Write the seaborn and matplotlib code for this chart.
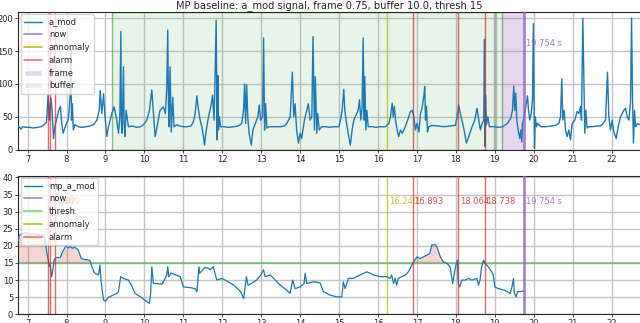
import numpy as np
import pandas as pd
import matplotlib
matplotlib.use("Agg")
import matplotlib.pyplot as plt
import seaborn as sns
from matplotlib.lines import Line2D
from matplotlib.patches import Patch

# ---------------- data ----------------
now = 19.754
buffer_start = 9.18
buffer_end = 19.18
frame_mark = 19.0
thresh = 15
anomaly_times = [16.240]
alarm_times = [7.536, 7.587, 7.709, 16.893, 18.064, 18.738]

sig_t = [6.755, 6.80, 6.83, 6.87, 6.95, 7.05, 7.15, 7.25, 7.35, 7.42, 7.47,
         7.486, 7.528, 7.560, 7.597, 7.63, 7.665, 7.70, 7.742, 7.80, 7.842, 7.876, 7.914, 7.957, 8.0, 8.042,
         8.068, 8.093, 8.11, 8.128, 8.15, 8.175, 8.214, 8.30,
         8.40, 8.50, 8.60, 8.69,
         8.78, 8.84, 8.864, 8.907, 8.95, 8.99, 9.035, 9.078, 9.163, 9.223, 9.29, 9.335, 9.37, 9.395, 9.41,
         9.43, 9.463, 9.48, 9.50, 9.53, 9.59, 9.70, 9.80, 9.90, 9.977,
         10.062, 10.13, 10.19, 10.233, 10.276, 10.336, 10.40, 10.49, 10.54, 10.575, 10.60, 10.62, 10.635,
         10.66, 10.69, 10.73, 10.76, 10.83, 10.90, 11.0, 11.1, 11.2,
         11.26, 11.304, 11.347, 11.39, 11.432, 11.475, 11.517, 11.543, 11.577, 11.646, 11.715, 11.75, 11.79,
         11.817, 11.843, 11.869, 11.886, 11.903, 11.929, 11.955, 12.05, 12.15, 12.30, 12.40,
         12.46, 12.50, 12.547, 12.573, 12.60, 12.625, 12.66, 12.69, 12.744, 12.786, 12.85, 12.915, 12.95,
         12.985, 13.036, 13.061, 13.087, 13.113, 13.147, 13.20, 13.35, 13.50, 13.60,
         13.658, 13.744, 13.80, 13.835, 13.87, 13.91, 13.956, 14.0, 14.04, 14.11, 14.17, 14.21, 14.256, 14.30,
         14.33, 14.367, 14.39, 14.427, 14.45, 14.49, 14.55, 14.65, 14.75, 14.85, 14.993,
         15.036, 15.079, 15.12, 15.147, 15.18, 15.233, 15.29, 15.335, 15.378, 15.438, 15.49, 15.524, 15.558,
         15.592, 15.618, 15.644, 15.66, 15.687, 15.713, 15.747, 15.85, 15.95, 16.05, 16.19,
         16.28, 16.32, 16.365, 16.39, 16.42, 16.45, 16.49, 16.53, 16.576, 16.62, 16.70, 16.79, 16.83, 16.876,
         16.92, 16.96, 17.0, 17.05, 17.09, 17.13, 17.176, 17.20, 17.22, 17.245, 17.27, 17.30, 17.39,
         17.55, 17.70, 17.85, 17.987,
         18.03, 18.07, 18.10, 18.133, 18.176, 18.227, 18.27, 18.33, 18.416, 18.485, 18.544, 18.587, 18.63,
         18.673, 18.716, 18.735, 18.745, 18.76, 18.785, 18.819, 18.862, 18.93,
         19.0, 19.1, 19.2, 19.324,
         19.41, 19.452, 19.487, 19.51, 19.538, 19.564, 19.607, 19.64, 19.667, 19.692, 19.71, 19.752, 19.795,
         19.838, 19.864, 19.898, 19.932, 19.967, 19.99, 20.018, 20.04, 20.07, 20.10, 20.18, 20.30, 20.45,
         20.56, 20.644, 20.687, 20.72, 20.746, 20.78, 20.815, 20.857, 20.90, 20.943, 20.986, 21.054, 21.114,
         21.157, 21.20, 21.225, 21.26, 21.285, 21.31, 21.337, 21.37, 21.414, 21.50, 21.60, 21.70,
         21.757, 21.843, 21.894, 21.928, 21.971, 22.014, 22.057, 22.117, 22.168, 22.228, 22.314, 22.357,
         22.40, 22.442, 22.485, 22.511, 22.537, 22.56, 22.588, 22.614, 22.674, 22.725, 22.76]
sig_v = [36, 34, 31, 35, 34, 34, 33, 34, 35, 38, 41,
         42, 84, 45, 79, 60, 17, 35, 45, 60, 66, 40, 25, 33, 40, 45,
         60, 86, 152, 45, 70, 30, 38, 35,
         34, 35, 36, 38,
         45, 60, 90, 55, 85, 50, 20, 35, 55, 65, 45, 25, 50, 180, 40,
         25, 126, 40, 20, 60, 35, 36, 34, 35, 38,
         45, 60, 91, 55, 20, 38, 60, 65, 55, 95, 182, 60, 35,
         126, 27, 80, 35, 38, 36, 35, 35, 36,
         43, 55, 82, 60, 45, 35, 20, 7, 25, 50, 68, 83, 45,
         116, 197, 15, 113, 30, 50, 35, 35, 34, 35, 36,
         38, 40, 60, 100, 40, 99, 45, 25, 7, 30, 40, 50, 68,
         45, 50, 170, 30, 70, 33, 35, 35, 35, 36,
         40, 50, 118, 50, 70, 30, 10, 25, 17, 45, 60, 70, 45, 50,
         172, 30, 111, 25, 55, 30, 35, 35, 34, 35, 35,
         45, 60, 92, 60, 45, 25, 7, 30, 45, 53, 60, 76, 45,
         66, 170, 45, 111, 30, 60, 35, 35, 34, 35, 35,
         40, 50, 71, 50, 66, 45, 30, 20, 30, 25, 35, 50, 58, 60,
         50, 30, 40, 27, 55, 63, 81, 96, 45, 66, 27, 35, 37,
         36, 35, 36, 37,
         50, 68, 60, 50, 40, 25, 10, 20, 35, 45, 63, 45, 30,
         40, 45, 168, 5, 84, 38, 50, 35, 35,
         35, 34, 35, 40,
         48, 60, 97, 60, 86, 45, 27, 17, 30, 12, 40, 50, 66,
         82, 60, 45, 55, 76, 192, 2, 50, 35, 40, 35, 35, 36,
         37, 40, 50, 108, 45, 60, 30, 20, 30, 15, 40, 45, 58,
         55, 66, 45, 200, 111, 25, 60, 33, 35, 35, 36, 36,
         38, 45, 118, 50, 30, 45, 27, 17, 35, 50, 60, 63,
         50, 45, 73, 200, 76, 10, 60, 35, 40, 38, 38]

mp_t = [6.765, 6.78, 6.85, 6.95, 7.05, 7.15, 7.25, 7.35, 7.43, 7.46, 7.49, 7.53, 7.56, 7.58, 7.62,
        7.65, 7.68, 7.73, 7.84, 7.90, 7.96, 8.0, 8.05, 8.09, 8.15, 8.21, 8.30, 8.38, 8.47, 8.55, 8.60,
        8.64, 8.70, 8.73, 8.82, 8.86, 8.885, 8.95, 9.0, 9.08, 9.2, 9.29, 9.335, 9.39, 9.46, 9.59, 9.67,
        9.76, 9.9, 10.06, 10.13, 10.16, 10.19, 10.23, 10.32, 10.45, 10.49, 10.575, 10.6, 10.625, 10.685,
        10.81, 10.92, 11.0, 11.17, 11.3, 11.35, 11.40, 11.42, 11.56, 11.65, 11.69, 11.77, 11.86, 11.99,
        12.12, 12.30, 12.47, 12.55, 12.62, 12.66, 12.75, 12.88, 12.99, 13.06, 13.10, 13.23, 13.32, 13.49,
        13.66, 13.74, 13.81, 13.87, 14.0, 14.10, 14.13, 14.17, 14.34, 14.51,
        14.6, 14.77, 14.94, 15.07, 15.11, 15.155, 15.24, 15.37, 15.45, 15.54, 15.71, 15.80, 15.88, 16.05,
        16.225, 16.31, 16.35, 16.40, 16.44, 16.48, 16.52, 16.61, 16.70, 16.78, 16.87, 16.91, 17.0, 17.08,
        17.17, 17.25, 17.33, 17.38, 17.47, 17.51, 17.60, 17.68, 17.77, 17.85, 17.92, 17.96, 18.0, 18.04,
        18.06, 18.1, 18.15, 18.24, 18.32, 18.41, 18.54, 18.58, 18.62, 18.66, 18.71, 18.75, 18.83, 18.92,
        18.96, 19.0, 19.09, 19.26, 19.39, 19.44, 19.48, 19.5, 19.55, 19.58, 19.65, 19.73, 19.754]
mp_v = [21.5, 23.0, 23.6, 23.8, 23.5, 23.6, 23.4, 23.2, 23.0, 21.0, 18.3, 15.8, 14.0, 14.4, 11.0,
        13.0, 15.8, 16.6, 16.6, 18.3, 19.5, 20.0, 19.4, 19.8, 19.3, 19.6, 18.8, 16.3, 16.0, 15.9, 15.8,
        14.4, 12.5, 12.0, 11.5, 14.4, 10.0, 4.2, 3.8, 5.0, 5.6, 6.1, 6.6, 11.0, 10.5, 10.0, 8.5,
        6.1, 5.1, 3.7, 3.2, 6.0, 13.9, 9.0, 9.0, 8.8, 9.5, 11.5, 13.9, 11.0, 12.0,
        11.5, 11.0, 8.0, 7.8, 7.5, 6.6, 13.9, 12.0, 13.7, 13.4, 13.0, 13.9, 10.0, 10.5,
        9.7, 8.5, 6.6, 4.6, 11.0, 8.5, 9.0, 10.0, 11.5, 13.0, 11.0, 11.5, 10.5, 8.5,
        7.0, 6.1, 10.0, 7.5, 8.0, 9.0, 12.0, 9.0, 9.5, 9.2,
        6.6, 5.6, 5.1, 5.1, 9.5, 7.5, 10.5, 10.5, 11.0, 11.5, 12.4, 12.0, 11.5, 11.0,
        11.0, 10.5, 11.5, 9.0, 10.5, 8.5, 10.5, 11.0, 11.5, 12.4, 14.4, 15.3, 16.8, 16.3,
        16.8, 17.3, 17.8, 20.3, 20.3, 19.8, 16.8, 15.3, 14.9, 13.9, 9.0, 12.0, 14.4, 15.8,
        9.0, 8.0, 10.0, 10.0, 10.5, 10.0, 10.5, 8.5, 10.0, 13.9, 15.8, 14.9, 13.9, 12.4,
        11.5, 8.0, 7.5, 7.0, 6.1, 8.0, 10.5, 6.1, 5.1, 6.6, 6.6, 6.8, 6.8]

sig_df = pd.DataFrame({"time": sig_t, "a_mod": sig_v})
mp_df = pd.DataFrame({"time": mp_t, "mp_a_mod": mp_v})

# ---------------- style ----------------
sns.set_theme(style="ticks")
plt.rcParams["font.family"] = ["DejaVu Sans"]
plt.rcParams["axes.linewidth"] = 0.8

BLUE = "#1f77b4"
PURPLE = "#9467bd"
OLIVE = "#bcbd22"
RED = "#d62728"
GREEN = "#2ca02c"
GRID = "#c4c4c4"
FS = 6

fig = plt.figure(figsize=(6.4, 3.23), dpi=100)
ax1 = fig.add_axes([18 / 640, 1 - 149.7 / 323, 623 / 640, 138 / 323])
ax2 = fig.add_axes([18 / 640, 1 - 314.3 / 323, 623 / 640, 138.6 / 323])

xlim = (now - 13, now + 3)

for ax in (ax1, ax2):
    ax.set_axisbelow(True)
    ax.grid(True, color=GRID, lw=1.0)
    ax.set_xlim(*xlim)
    ax.set_xticks(range(7, 23))
    ax.tick_params(labelsize=FS, length=2, width=0.6, pad=1.5)

# ---------- top: signal ----------
ax1.axvspan(buffer_start, buffer_end, facecolor=(0.173, 0.627, 0.173, 0.11),
            edgecolor=(0.173, 0.627, 0.173, 0.6), lw=1, zorder=1)
ax1.axvline(frame_mark, color="#a8a8a8", lw=2.5, alpha=0.8, zorder=1.5)
ax1.axvspan(buffer_end, now, facecolor=(0.58, 0.404, 0.741, 0.25), edgecolor="none", zorder=1)
sns.lineplot(data=sig_df, x="time", y="a_mod", ax=ax1, color=BLUE, lw=1.0,
             estimator=None, sort=False, legend=False, zorder=3)
for t in anomaly_times:
    ax1.axvline(t, color=OLIVE, lw=1, alpha=0.8, zorder=2)
for t in alarm_times:
    ax1.axvline(t, color=RED, lw=1, alpha=0.7, zorder=4)
ax1.axvline(now, color=PURPLE, lw=2, alpha=0.8, zorder=4)
ax1.text(now + 0.05, 162, f"{now:.3f} s", color=PURPLE, fontsize=FS, va="center", alpha=0.85)
ax1.set_ylim(0, 210)
ax1.set_yticks([0, 50, 100, 150, 200])
ax1.set_xlabel("")
ax1.set_ylabel("")
ax1.set_title("MP baseline: a_mod signal, frame 0.75, buffer 10.0, thresh 15", fontsize=7.1, pad=2.5)

h1 = [Line2D([], [], color=BLUE, lw=1, label="a_mod"),
      Line2D([], [], color=PURPLE, lw=1.2, alpha=0.8, label="now"),
      Line2D([], [], color=OLIVE, lw=1.2, label="annomaly"),
      Line2D([], [], color=RED, lw=1.2, alpha=0.6, label="alarm"),
      Patch(facecolor=(0.58, 0.404, 0.741, 0.25), label="frame"),
      Patch(facecolor=(0.173, 0.627, 0.173, 0.11), label="buffer")]
ax1.legend(handles=h1, loc="upper left", fontsize=FS, framealpha=0.8, borderaxespad=0.3,
           handlelength=2.2, labelspacing=0.45, borderpad=0.4, fancybox=True)

# ---------- bottom: matrix profile ----------
ax2.axhline(thresh, color=GREEN, lw=1.6, alpha=0.45, zorder=2)
mp_arr = np.array(mp_v)
ax2.fill_between(mp_t, mp_arr, thresh, where=mp_arr > thresh, interpolate=True,
                 color=RED, alpha=0.2, lw=0, zorder=1.5)
sns.lineplot(data=mp_df, x="time", y="mp_a_mod", ax=ax2, color=BLUE, lw=0.9,
             estimator=None, sort=False, legend=False, zorder=3)
for t in anomaly_times:
    ax2.axvline(t, color=OLIVE, lw=1, alpha=0.8, zorder=2)
    ax2.text(t + 0.04, 32.9, f"{t:.3f}", color=OLIVE, fontsize=FS, va="center", alpha=0.9)
for t in alarm_times:
    ax2.axvline(t, color=RED, lw=1, alpha=0.7, zorder=4)
    ax2.text(t + 0.04, 32.9, f"{t:.3f}", color=RED, fontsize=FS, va="center", alpha=0.8)
ax2.axvline(now, color=PURPLE, lw=2, alpha=0.8, zorder=4)
ax2.text(now + 0.05, 32.9, f"{now:.3f} s", color=PURPLE, fontsize=FS, va="center", alpha=0.85)
ax2.set_ylim(0, 40.5)
ax2.set_yticks(range(0, 41, 5))
ax2.set_xlabel("")
ax2.set_ylabel("")

h2 = [Line2D([], [], color=BLUE, lw=1, label="mp_a_mod"),
      Line2D([], [], color=PURPLE, lw=1.2, alpha=0.8, label="now"),
      Line2D([], [], color=GREEN, lw=1.6, alpha=0.45, label="thresh"),
      Line2D([], [], color=OLIVE, lw=1.2, label="annomaly"),
      Line2D([], [], color=RED, lw=1.6, alpha=0.5, label="alarm")]
ax2.legend(handles=h2, loc="upper left", fontsize=FS, framealpha=0.8, borderaxespad=0.3,
           handlelength=2.2, labelspacing=0.45, borderpad=0.4, fancybox=True)

fig.savefig("out.png", dpi=100)
